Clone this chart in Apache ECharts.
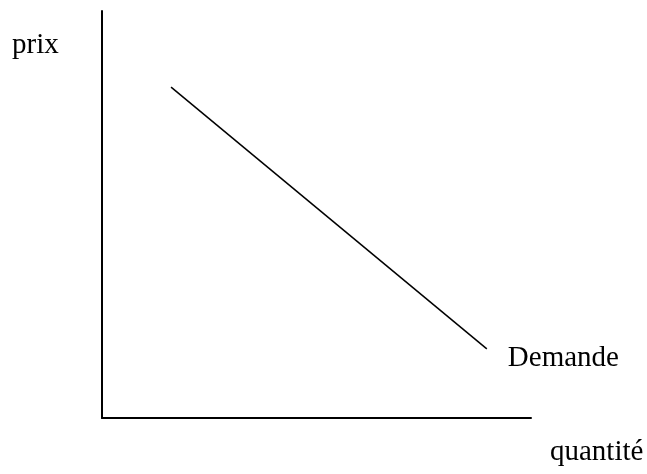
<!DOCTYPE html>
<html>
<head>
<meta charset="utf-8">
<script src="https://cdn.jsdelivr.net/npm/echarts@6/dist/echarts.min.js"></script>
<style>
  html, body { margin: 0; padding: 0; background: #fff; }
  #main { width: 647px; height: 474px; }
</style>
</head>
<body>
<div id="main"></div>
<script>
// la courbe de demande : deux points (quantité, prix)
var quantite = [16.1, 89.7];
var prix = [81.3, 17.0];
var labelCourbe = 'Demande';
var labelX = 'quantité';
var labelY = 'prix';

var serif = "'Liberation Serif', 'Times New Roman', serif";

var myChart = echarts.init(document.getElementById('main'));

var points = quantite.map(function (q, i) { return [q, prix[i]]; });

var option = {
    animation: false,
    backgroundColor: '#fff',
    grid: {
        left: 102,
        top: 11,
        right: 116,
        bottom: 56
    },
    xAxis: {
        type: 'value',
        min: 0,
        max: 100,
        axisLine: { show: true, onZero: false, lineStyle: { color: '#000', width: 2 } },
        axisTick: { show: false },
        axisLabel: { show: false },
        splitLine: { show: false }
    },
    yAxis: {
        type: 'value',
        min: 0,
        max: 100,
        axisLine: { show: true, onZero: false, lineStyle: { color: '#000', width: 2 } },
        axisTick: { show: false },
        axisLabel: { show: false },
        splitLine: { show: false }
    },
    graphic: [
        {
            type: 'text',
            left: 12,
            top: 31,
            style: { text: labelY, font: '29px ' + serif, fill: '#000' }
        },
        {
            type: 'text',
            left: 550,
            top: 438,
            style: { text: labelX, font: '29px ' + serif, fill: '#000' }
        }
    ],
    series: [
        {
            type: 'line',
            data: points,
            symbol: 'none',
            lineStyle: { color: '#000', width: 1.5 },
            endLabel: {
                show: true,
                formatter: labelCourbe,
                distance: 21,
                offset: [0, 10],
                color: '#000',
                fontFamily: serif,
                fontSize: 29
            }
        }
    ]
};

myChart.setOption(option);
</script>
</body>
</html>
